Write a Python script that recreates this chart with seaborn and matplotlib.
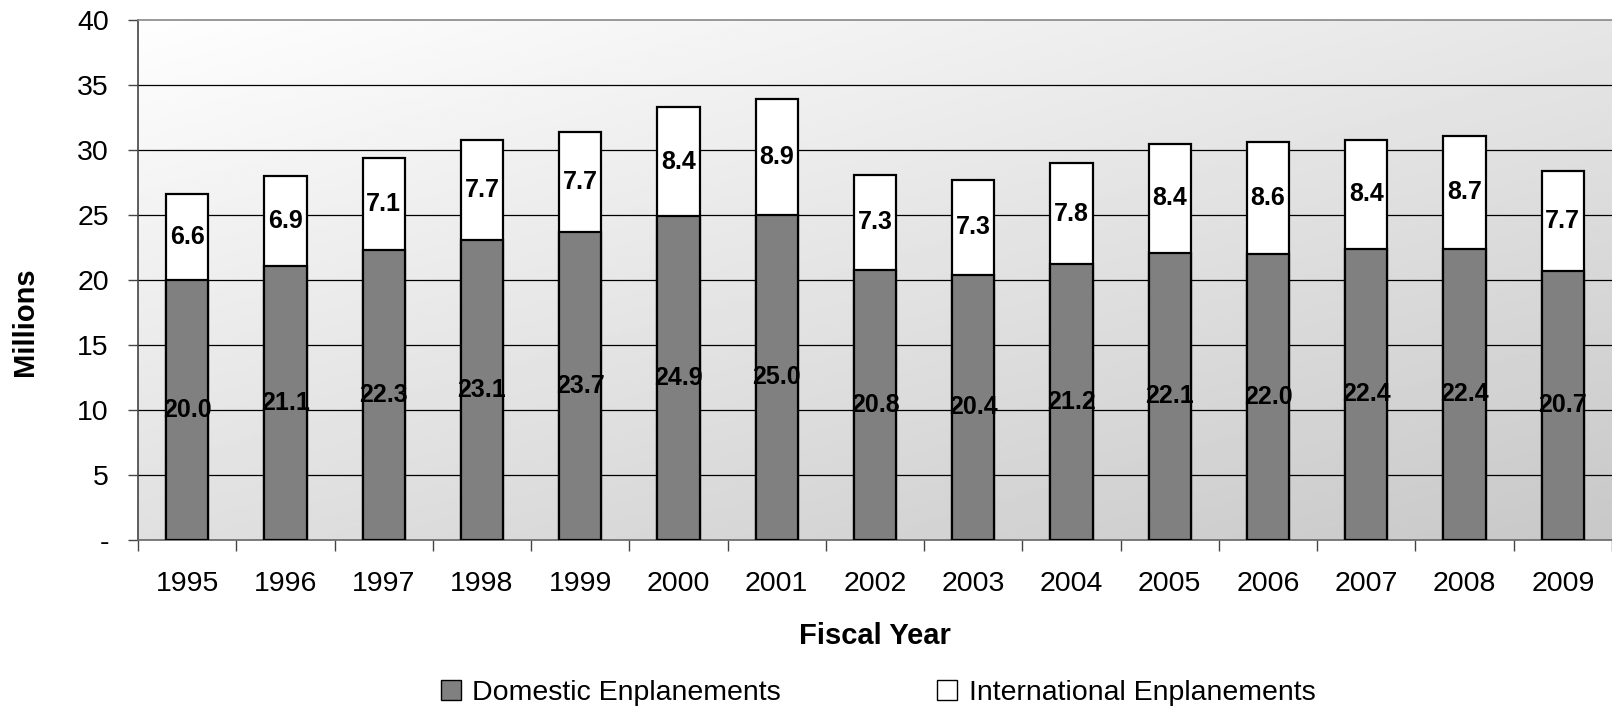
import numpy as np
import pandas as pd
import matplotlib
matplotlib.use("Agg")
import matplotlib.pyplot as plt
import seaborn as sns
from matplotlib.patches import Patch

years = ["1995", "1996", "1997", "1998", "1999", "2000", "2001", "2002",
         "2003", "2004", "2005", "2006", "2007", "2008", "2009"]
domestic = [20.0, 21.1, 22.3, 23.1, 23.7, 24.9, 25.0, 20.8, 20.4, 21.2, 22.1, 22.0, 22.4, 22.4, 20.7]
international = [6.6, 6.9, 7.1, 7.7, 7.7, 8.4, 8.9, 7.3, 7.3, 7.8, 8.4, 8.6, 8.4, 8.7, 7.7]
yticks = [0, 5, 10, 15, 20, 25, 30, 35, 40]
ytick_labels = ["-", "5", "10", "15", "20", "25", "30", "35", "40"]

sns.set_theme(style="white")
plt.rcParams["font.family"] = ["Liberation Sans", "DejaVu Sans"]
plt.rcParams["text.color"] = "black"
plt.rcParams["xtick.color"] = "black"
plt.rcParams["ytick.color"] = "black"
plt.rcParams["axes.labelcolor"] = "black"

df = pd.DataFrame({"year": years, "domestic": domestic, "international": international})
df["total"] = df["domestic"] + df["international"]

fig = plt.figure(figsize=(16.12, 7.11), dpi=100)
ax = fig.add_axes([138 / 1612, 1 - 540 / 711, 1474 / 1612, 520 / 711])

# gradient background
nx, ny = 200, 200
xx = np.linspace(0, 1, nx)
yy = np.linspace(0, 1, ny)  # 0 top, 1 bottom
X, Y = np.meshgrid(xx, yy)
G = (254 - 24 * X - 30 * Y) / 255.0
ax.imshow(G, cmap="gray", vmin=0, vmax=1, extent=[0, 1, 0, 1], transform=ax.transAxes,
          aspect="auto", zorder=0, origin="upper")

# gridlines
for yv in yticks[1:-1]:
    ax.axhline(yv, color="black", lw=0.9, zorder=1)

sns.barplot(data=df, x="year", y="total", color="white", edgecolor="black",
            linewidth=1.6, width=0.43, saturation=1, ax=ax, zorder=3)
sns.barplot(data=df, x="year", y="domestic", color="#808080", edgecolor="black",
            linewidth=1.6, width=0.43, saturation=1, ax=ax, zorder=4)

for i, (d, n) in enumerate(zip(domestic, international)):
    ax.text(i, d / 2, f"{d:.1f}", ha="center", va="center", fontsize=18,
            fontweight="bold", color="black", zorder=5)
    ax.text(i, d + n / 2, f"{n:.1f}", ha="center", va="center", fontsize=18,
            fontweight="bold", color="black", zorder=5)

ax.set_xlim(-0.5, len(years) - 0.5)
ax.set_ylim(0, 40)
ax.set_yticks(yticks)
ax.set_yticklabels(ytick_labels, fontsize=20.5)
ax.tick_params(axis="y", direction="out", length=7, width=1, color="#444444", pad=14, left=True)
ax.set_xticks(range(len(years)))
ax.set_xticklabels(years, fontsize=20.5)
ax.set_xticks(np.arange(-0.5, len(years), 1.0), minor=True)
ax.tick_params(axis="x", which="major", length=0, pad=22, bottom=True)
ax.tick_params(axis="x", which="minor", length=8, width=1, color="#444444", bottom=True, direction="out")

for side in ["left", "bottom", "top"]:
    ax.spines[side].set_visible(True)
    ax.spines[side].set_linewidth(1.2)
ax.spines["left"].set_color("#444444")
ax.spines["bottom"].set_color("#666666")
ax.spines["top"].set_color("#888888")
ax.spines["right"].set_visible(False)

ax.set_xlabel("Fiscal Year", fontsize=21, fontweight="bold")
ax.xaxis.set_label_coords(0.5, -0.185)
ax.xaxis.label.set_verticalalignment("center")
ax.set_ylabel("Millions", fontsize=21, fontweight="bold")
ax.yaxis.set_label_coords(-0.0767, 0.42)
ax.yaxis.label.set_verticalalignment("center")

handles = [Patch(facecolor="#808080", edgecolor="black", linewidth=1.0, label="Domestic Enplanements"),
           Patch(facecolor="white", edgecolor="black", linewidth=1.0, label="International Enplanements")]
fig.legend(handles=handles, loc="center", bbox_to_anchor=(878 / 1612, 1 - 693 / 711), ncol=2,
           frameon=False, fontsize=20.5, handlelength=0.7, handleheight=0.7, handletextpad=0.4,
           columnspacing=5.5)

fig.savefig("out.png", dpi=100)
